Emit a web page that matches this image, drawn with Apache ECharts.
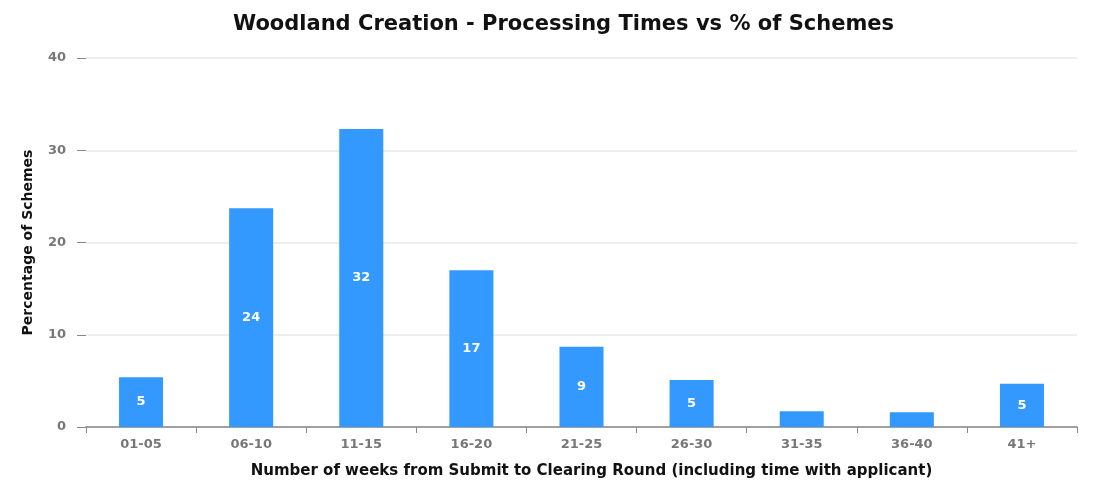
<!DOCTYPE html>
<html>
<head>
<meta charset="utf-8">
<script src="https://cdn.jsdelivr.net/npm/echarts@6/dist/echarts.min.js"></script>
<style>html,body{margin:0;padding:0;background:#fff}#c{width:1100px;height:485px}</style>
</head>
<body>
<div id="c"></div>
<script>
const categories = ['01-05','06-10','11-15','16-20','21-25','26-30','31-35','36-40','41+'];
const values = [5.4, 23.7, 32.3, 17.0, 8.7, 5.1, 1.7, 1.6, 4.7];
const yTicks = [0, 10, 20, 30, 40];

const FONT = 'DejaVu Sans, Liberation Sans, Arial, sans-serif';
const chart = echarts.init(document.getElementById('c'));
chart.setOption({
  animation: false,
  textStyle: { fontFamily: FONT },
  title: {
    text: 'Woodland Creation - Processing Times vs % of Schemes',
    left: 228, top: 9,
    textStyle: { fontSize: 21, fontWeight: 'bold', color: '#111', fontFamily: FONT }
  },
  grid: { left: 86, right: 23, top: 58, bottom: 58 },
  xAxis: {
    type: 'category',
    data: categories,
    name: 'Number of weeks from Submit to Clearing Round (including time with applicant)',
    nameLocation: 'middle', nameGap: 37,
    nameTextStyle: { fontSize: 15, fontWeight: 'bold', color: '#111', fontFamily: FONT, padding: [0, 0, 0, 20] },
    axisLine: { lineStyle: { color: '#888', width: 1.5 } },
    axisTick: { show: true, length: 6, lineStyle: { color: '#888' } },
    axisLabel: { fontSize: 13, fontWeight: 'bold', color: '#777', margin: 11, fontFamily: FONT }
  },
  yAxis: {
    type: 'value',
    min: yTicks[0], max: yTicks[yTicks.length - 1], interval: 10,
    name: 'Percentage of Schemes',
    nameLocation: 'middle', nameGap: 51,
    nameTextStyle: { fontSize: 14, fontWeight: 'bold', color: '#111', fontFamily: FONT },
    axisLine: { show: false },
    axisTick: { show: true, length: 9, lineStyle: { color: '#888' } },
    axisLabel: { fontSize: 13, fontWeight: 'bold', color: '#777', margin: 20, fontFamily: FONT },
    splitLine: { lineStyle: { color: '#e8e8e8', width: 1.5 } }
  },
  series: [{
    type: 'bar',
    data: values,
    barWidth: '40%',
    itemStyle: { color: '#3399ff' },
    label: {
      show: true, position: 'inside',
      color: '#fff', fontSize: 13, fontWeight: 'bold', fontFamily: FONT,
      formatter: p => p.value >= 3 ? Math.round(p.value) : ''
    }
  }]
});
</script>
</body>
</html>
